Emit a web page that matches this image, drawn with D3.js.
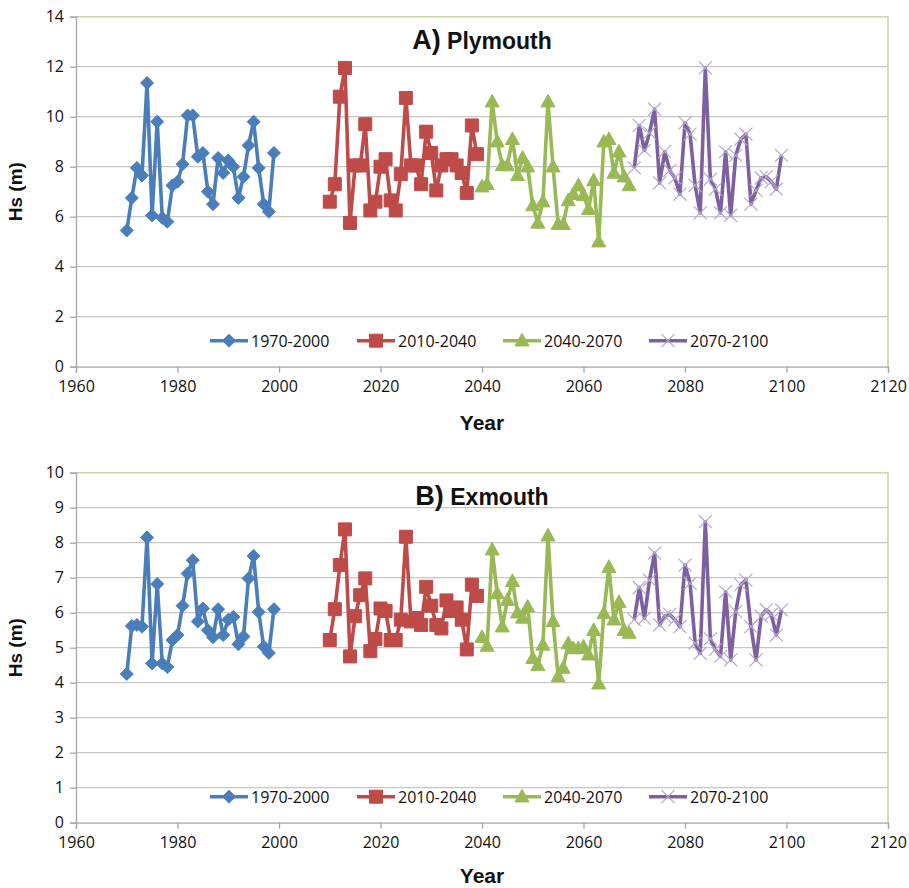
<!DOCTYPE html>
<html>
<head>
<meta charset="utf-8">
<script src="https://cdn.jsdelivr.net/npm/d3@7"></script>
<style>
  body { margin: 0; background: #fff; }
  svg { display: block; }
  .tick-label { font-family: "Open Sans", "Liberation Sans", sans-serif; font-size: 16px; fill: #111; }
  .legend-label { font-family: "Open Sans", "Liberation Sans", sans-serif; font-size: 16px; fill: #111; }
  .axis-title { font-family: "Liberation Sans Narrow", "Liberation Sans", sans-serif; font-weight: bold; fill: #111; }
</style>
</head>
<body>
<svg id="chart" width="909" height="888"></svg>
<script>
// Significant wave height (Hs) per year, four 30-year periods, two sites.
const seriesNames = ["1970-2000", "2010-2040", "2040-2070", "2070-2100"];
const seriesFirstYear = [1970, 2010, 2040, 2070];
const xTickValues = [1960, 1980, 2000, 2020, 2040, 2060, 2080, 2100, 2120];
const plymouthTicks = [0, 2, 4, 6, 8, 10, 12, 14];
const exmouthTicks = [0, 1, 2, 3, 4, 5, 6, 7, 8, 9, 10];

// A) Plymouth
const plymouth1970 = [5.45, 6.75, 7.95, 7.65, 11.35, 6.05, 9.8, 5.95, 5.8, 7.25, 7.4, 8.1, 10.05, 10.05, 8.4, 8.55, 7.0, 6.5, 8.35, 7.75, 8.25, 8.0, 6.75, 7.6, 8.85, 9.8, 7.95, 6.5, 6.2, 8.55];
const plymouth2010 = [6.6, 7.3, 10.8, 11.95, 5.75, 8.05, 8.05, 9.7, 6.25, 6.6, 8.0, 8.3, 6.65, 6.25, 7.7, 10.75, 8.05, 8.05, 7.3, 9.4, 8.55, 7.05, 8.05, 8.3, 8.3, 8.05, 7.75, 6.95, 9.65, 8.5];
const plymouth2040 = [7.2, 7.3, 10.6, 9.0, 8.05, 8.05, 9.1, 7.65, 8.35, 8.0, 6.45, 5.75, 6.6, 10.6, 8.0, 5.7, 5.7, 6.65, 6.9, 7.25, 6.85, 6.3, 7.45, 5.0, 9.0, 9.1, 7.75, 8.6, 7.6, 7.25];
const plymouth2070 = [7.95, 9.65, 8.65, 9.35, 10.3, 7.35, 8.6, 7.85, 7.55, 6.9, 9.75, 9.3, 7.25, 6.15, 11.95, 7.5, 7.1, 6.15, 8.6, 6.05, 8.45, 9.1, 9.3, 6.5, 7.05, 7.55, 7.6, 7.4, 7.1, 8.45];

// B) Exmouth
const exmouth1970 = [4.25, 5.62, 5.65, 5.6, 8.15, 4.55, 6.82, 4.55, 4.45, 5.22, 5.36, 6.2, 7.12, 7.5, 5.75, 6.12, 5.5, 5.3, 6.1, 5.36, 5.8, 5.88, 5.1, 5.32, 6.98, 7.62, 6.02, 5.03, 4.85, 6.1];
const exmouth2010 = [5.22, 6.1, 7.36, 8.38, 4.75, 5.9, 6.5, 6.98, 4.9, 5.25, 6.12, 6.05, 5.22, 5.22, 5.8, 8.17, 5.75, 5.85, 5.65, 6.74, 6.2, 5.65, 5.55, 6.35, 6.05, 6.15, 5.8, 4.95, 6.8, 6.48];
const exmouth2040 = [5.3, 5.05, 7.8, 6.55, 5.6, 6.36, 6.9, 6.0, 5.85, 6.17, 4.7, 4.5, 5.08, 8.2, 5.75, 4.18, 4.42, 5.12, 4.98, 4.98, 5.03, 4.8, 5.5, 3.97, 5.98, 7.3, 5.8, 6.3, 5.5, 5.42];
const exmouth2070 = [5.8, 6.72, 5.84, 6.93, 7.7, 5.65, 5.9, 5.95, 5.8, 5.6, 7.36, 6.84, 5.13, 4.84, 8.6, 5.25, 4.95, 4.75, 6.6, 4.65, 6.03, 6.8, 6.93, 5.6, 4.65, 5.9, 6.08, 5.95, 5.36, 6.08];

const colors = ["#4a7ebb", "#be4b48", "#98b954", "#7d60a0"];
const markerStroke = ["#4a7ebb", "#be4b48", "#98b954", "#b3a5d0"];

// Marker shapes, size argument = half-width in px
const diamond = { draw(c, r) { c.moveTo(0, -r); c.lineTo(r, 0); c.lineTo(0, r); c.lineTo(-r, 0); c.closePath(); } };
const square = { draw(c, r) { c.rect(-r, -r, 2 * r, 2 * r); } };
const triangle = { draw(c, r) { c.moveTo(0, -r * 1.05); c.lineTo(r, r * 0.75); c.lineTo(-r, r * 0.75); c.closePath(); } };
const cross = { draw(c, r) { c.moveTo(-r, -r); c.lineTo(r, r); c.moveTo(r, -r); c.lineTo(-r, r); } };
const markerTypes = [diamond, square, triangle, cross];
const markerSizes = [6.5, 6.5, 7, 6.5];

const panels = [
  { letter: "A)", name: "Plymouth", top: 16.7, bottom: 366.7, yMax: 14, ticks: plymouthTicks,
    data: [plymouth1970, plymouth2010, plymouth2040, plymouth2070], yearOffset: 63 },
  { letter: "B)", name: "Exmouth", top: 472.7, bottom: 822.7, yMax: 10, ticks: exmouthTicks,
    data: [exmouth1970, exmouth2010, exmouth2040, exmouth2070], yearOffset: 60 }
];

const svg = d3.select("#chart");
const left = 76, right = 888;
const x = d3.scaleLinear().domain([1960, 2120]).range([left, right]);

panels.forEach(p => {
  const g = svg.append("g");
  const y = d3.scaleLinear().domain([0, p.yMax]).range([p.bottom, p.top]);

  // horizontal gridlines
  g.append("g").selectAll("line").data(p.ticks.filter(t => t > 0 && t < p.yMax)).join("line")
    .attr("x1", left).attr("x2", right)
    .attr("y1", d => y(d)).attr("y2", d => y(d))
    .attr("stroke", "#c6c6c6").attr("stroke-width", 1.3);

  // plot area border (top and right)
  g.append("path")
    .attr("d", `M${left},${y(p.yMax)}H${right}V${y(0)}`)
    .attr("fill", "none").attr("stroke", "#c8d8a4").attr("stroke-width", 1.5);

  // y axis
  const yAxis = d3.axisLeft(y).tickValues(p.ticks).tickSize(6).tickPadding(6).tickFormat(d3.format("d"));
  const ya = g.append("g").attr("transform", `translate(${left},0)`).call(yAxis);
  ya.select(".domain").attr("stroke", "#a6a6a6").attr("stroke-width", 1.3);
  ya.selectAll(".tick line").attr("stroke", "#a6a6a6").attr("stroke-width", 1.3);
  ya.selectAll(".tick text").attr("class", "tick-label").attr("font-family", null).attr("font-size", null);

  // x axis
  const xAxis = d3.axisBottom(x).tickValues(xTickValues).tickSize(6).tickPadding(8).tickFormat(d3.format("d"));
  const xa = g.append("g").attr("transform", `translate(0,${y(0)})`).call(xAxis);
  xa.select(".domain").attr("stroke", "#a6a6a6").attr("stroke-width", 1.3);
  xa.selectAll(".tick line").attr("stroke", "#a6a6a6").attr("stroke-width", 1.3);
  xa.selectAll(".tick text").attr("class", "tick-label").attr("font-family", null).attr("font-size", null);

  // series lines and markers
  p.data.forEach((vals, i) => {
    const pts = vals.map((v, k) => [seriesFirstYear[i] + k, v]);
    g.append("path").datum(pts)
      .attr("d", d3.line().x(d => x(d[0])).y(d => y(d[1])))
      .attr("fill", "none").attr("stroke", colors[i]).attr("stroke-width", 3.6)
      .attr("stroke-linejoin", "round");
    const sym = d3.symbol().type(markerTypes[i]).size(markerSizes[i]);
    g.append("g").selectAll("path").data(pts).join("path")
      .attr("transform", d => `translate(${x(d[0])},${y(d[1])})`)
      .attr("d", sym)
      .attr("fill", i === 3 ? "none" : colors[i])
      .attr("stroke", markerStroke[i]).attr("stroke-width", i === 3 ? 1.2 : 1);
  });

  // legend
  const legendY = y(0) - 26;
  const legendX = [210, 357, 503, 649];
  seriesNames.forEach((name, i) => {
    const lg = g.append("g").attr("transform", `translate(${legendX[i]},${legendY})`);
    lg.append("line").attr("x1", 0).attr("x2", 38).attr("y1", 0).attr("y2", 0)
      .attr("stroke", colors[i]).attr("stroke-width", 3.6);
    lg.append("path").attr("transform", "translate(19,0)")
      .attr("d", d3.symbol().type(markerTypes[i]).size(markerSizes[i]))
      .attr("fill", i === 3 ? "none" : colors[i])
      .attr("stroke", markerStroke[i]).attr("stroke-width", i === 3 ? 1.2 : 1);
    lg.append("text").attr("class", "legend-label").attr("x", 41).attr("y", 0)
      .attr("dominant-baseline", "central").text(name);
  });

  // chart title
  const t = g.append("text").attr("class", "axis-title")
    .attr("x", (left + right) / 2).attr("y", p.top + 32).attr("text-anchor", "middle");
  t.append("tspan").attr("font-size", 27).text(p.letter);
  t.append("tspan").attr("font-size", 23).text(" " + p.name);

  // axis titles
  g.append("text").attr("class", "axis-title").attr("font-size", 21)
    .attr("x", (left + right) / 2).attr("y", y(0) + p.yearOffset).attr("text-anchor", "middle").text("Year");
  g.append("text").attr("class", "axis-title").attr("font-size", 19)
    .attr("transform", `translate(22,${(p.top + p.bottom) / 2}) rotate(-90)`)
    .attr("text-anchor", "middle").text("Hs (m)");
});
</script>
</body>
</html>
